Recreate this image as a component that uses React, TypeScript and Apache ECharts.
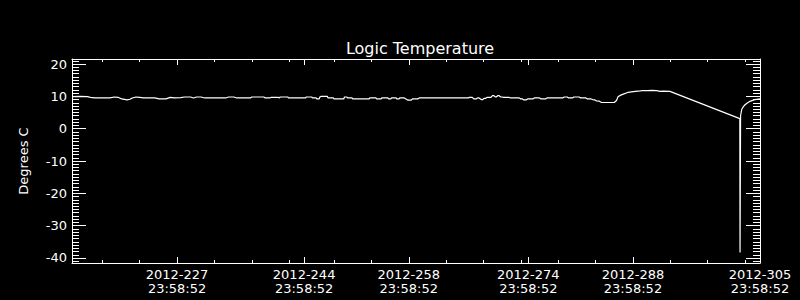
import React, { useEffect, useRef } from "react";
import * as echarts from "echarts";

// ---------- data ----------
const TITLE = "Logic Temperature";
const Y_NAME = "Degrees C";
const YEAR = "2012";
const TIME_OF_DAY = "23:58:52";

// x: day of year 2012 (fractional), y: degrees C
const X_MIN = 212.94;
const X_MAX = 305.0;
const Y_MIN = -41.55;
const Y_MAX = 21.55;

const majorDays = [227, 244, 258, 274, 288, 305];
const minorDays = [217, 222, 232, 237, 242, 248, 253, 263, 268, 273, 278, 283, 293, 298, 303];
const yMajorTicks = [-40, -30, -20, -10, 0, 10, 20];
const yMinorTicks = [
  -41, -40, -39, -38, -37, -36, -35, -34, -33, -32, -31, -30, -29, -28, -27, -26, -25, -24, -23, -22, -21,
  -20, -19, -18, -17, -16, -15, -14, -13, -12, -11, -10, -9, -8, -7, -6, -5, -4, -3, -2, -1, 0, 1, 2, 3, 4,
  5, 6, 7, 8, 9, 10, 11, 12, 13, 14, 15, 16, 17, 18, 19, 20, 21,
];

const days = [
  212.95, 214.0, 215.0, 215.4, 216.0, 218.0, 218.6, 219.1, 219.6, 220.3, 220.7, 221.0, 221.5, 222.0, 222.5,
  224.0, 224.6, 225.5, 226.1, 226.6, 227.5, 228.0, 228.8, 229.2, 229.6, 230.2, 230.7, 233.5, 233.9, 234.6,
  235.0, 236.8, 237.0, 238.6, 238.8, 239.4, 239.6, 240.5, 240.7, 240.8, 241.8, 241.9, 244.2, 244.3, 245.0,
  245.1, 245.6, 245.7, 246.0, 246.1, 246.3, 247.1, 247.2, 247.9, 248.0, 249.3, 249.4, 249.7, 249.8, 250.4,
  250.5, 252.7, 252.8, 253.6, 253.7, 254.3, 254.4, 255.2, 255.3, 255.6, 255.7, 256.3, 256.4, 256.7, 256.8,
  257.4, 257.9, 258.3, 258.5, 259.2, 259.4, 266.0, 266.1, 266.5, 266.7, 267.0, 267.2, 267.4, 267.7, 267.9,
  268.1, 268.3, 268.5, 269.0, 269.2, 269.4, 269.6, 269.7, 269.9, 270.1, 270.3, 270.5, 270.7, 271.4, 271.6,
  272.8, 273.0, 273.2, 273.4, 273.7, 273.9, 274.6, 274.8, 275.5, 275.7, 276.3, 276.5, 278.6, 278.8, 279.2,
  279.4, 279.9, 280.1, 280.8, 281.0, 281.7, 281.9, 282.4, 282.6, 282.9, 283.1, 283.5, 283.8, 285.5, 285.8,
  286.0, 286.3, 286.7, 287.3, 288.3, 289.0, 289.3, 290.0, 290.5, 291.2, 291.6, 292.0, 292.95, 302.3, 302.33,
  302.4, 302.48, 302.56, 302.8, 303.0, 303.3, 303.66, 304.3, 305.0,
];

const temps = [
  9.9, 10.0, 9.9, 9.7, 9.5, 9.5, 9.8, 9.7, 9.2, 8.9, 9.1, 9.5, 9.8, 9.7, 9.5,
  9.5, 9.2, 9.2, 9.7, 9.5, 9.6, 9.8, 9.8, 9.5, 9.8, 9.8, 9.5, 9.5, 9.8, 9.8,
  9.5, 9.5, 9.8, 9.8, 9.5, 9.5, 9.7, 9.7, 9.5, 9.8, 9.8, 9.5, 9.5, 9.8, 9.8,
  9.5, 9.5, 9.2, 9.2, 9.8, 10.0, 10.0, 9.5, 9.5, 9.2, 9.2, 9.8, 9.8, 9.5, 9.5,
  9.2, 9.2, 9.5, 9.5, 9.2, 9.2, 9.5, 9.5, 9.2, 9.2, 9.5, 9.5, 9.2, 9.2, 9.5,
  9.5, 8.8, 8.8, 9.2, 9.2, 9.5, 9.5, 9.7, 9.7, 9.2, 9.2, 9.5, 9.5, 9.0, 9.0,
  9.4, 9.4, 9.7, 9.7, 10.2, 10.2, 9.8, 9.8, 10.2, 10.2, 9.8, 9.8, 9.7, 9.7, 9.5,
  9.5, 9.2, 9.2, 8.9, 8.9, 9.2, 9.2, 9.5, 9.5, 9.2, 9.2, 9.5, 9.5, 9.8, 9.8,
  9.5, 9.5, 9.8, 9.8, 9.5, 9.5, 9.2, 9.2, 9.0, 8.9, 8.6, 8.5, 8.1, 8.1, 8.7,
  9.9, 10.3, 10.7, 11.2, 11.55, 11.7, 11.8, 11.75, 11.85, 11.75, 11.55, 11.6, 11.55, 3.1, -38.3,
  4.0, 5.0, 6.0, 6.9, 7.4, 7.95, 8.45, 9.0, 9.2,
];

// ---------- chart ----------
const FONT = "DejaVu Sans";
const WHITE = "#ffffff";

const fmtY = (v: number) => String(v);
const fmtX = (v: number) => `${YEAR}-${Math.round(v)}\n${TIME_OF_DAY}`;

export default function App() {
  const ref = useRef<HTMLDivElement>(null);

  useEffect(() => {
    if (!ref.current) return;
    document.body.style.margin = "0";
    document.body.style.background = "#000";
    const chart = echarts.init(ref.current, null, { renderer: "svg" });

    const data = days.map((d, i) => [d, temps[i]]);

    const xBase = (position: string, customTicks: number[], len: number, showLine: boolean, showLabel: boolean) => ({
      type: "value",
      gridIndex: 0,
      position,
      min: X_MIN,
      max: X_MAX,
      axisLine: { show: showLine, onZero: false, lineStyle: { color: WHITE, width: 1 } },
      axisTick: {
        show: true,
        inside: true,
        length: len,
        customValues: customTicks,
        lineStyle: { color: WHITE, width: 1 },
      },
      axisLabel: showLabel
        ? {
            show: true,
            customValues: majorDays,
            formatter: fmtX,
            color: WHITE,
            fontFamily: FONT,
            fontSize: 13,
            lineHeight: 14,
            margin: 4,
          }
        : { show: false },
      splitLine: { show: false },
      minorTick: { show: false },
    });

    const yBase = (position: string, customTicks: number[], len: number, showLine: boolean, showLabel: boolean) => ({
      type: "value",
      gridIndex: 0,
      position,
      min: Y_MIN,
      max: Y_MAX,
      axisLine: { show: showLine, onZero: false, lineStyle: { color: WHITE, width: 1 } },
      axisTick: {
        show: true,
        inside: true,
        length: len,
        customValues: customTicks,
        lineStyle: { color: WHITE, width: 1 },
      },
      axisLabel: showLabel
        ? {
            show: true,
            customValues: yMajorTicks,
            formatter: fmtY,
            color: WHITE,
            fontFamily: FONT,
            fontSize: 13,
            margin: 5,
          }
        : { show: false },
      splitLine: { show: false },
      minorTick: { show: false },
    });

    const yMain: any = yBase("left", yMajorTicks, 14, true, true);
    yMain.name = Y_NAME;
    yMain.nameLocation = "middle";
    yMain.nameGap = 42;
    yMain.nameRotate = 90;
    yMain.nameTextStyle = { color: WHITE, fontFamily: FONT, fontSize: 13 };

    const option: any = {
      animation: false,
      backgroundColor: "#000000",
      title: {
        text: TITLE,
        left: 415,
        top: 35,
        textAlign: "center",
        textStyle: { color: WHITE, fontFamily: FONT, fontSize: 16, fontWeight: "normal" },
      },
      grid: { left: 72, top: 59, width: 688, height: 204, containLabel: false },
      xAxis: [
        xBase("bottom", majorDays, 6, true, true),
        xBase("bottom", minorDays, 3, false, false),
        xBase("top", majorDays, 6, true, false),
        xBase("top", minorDays, 3, false, false),
      ],
      yAxis: [
        yMain,
        yBase("left", yMinorTicks, 7, false, false),
        yBase("right", yMajorTicks, 14, true, false),
        yBase("right", yMinorTicks, 7, false, false),
      ],
      series: [
        {
          type: "line",
          xAxisIndex: 0,
          yAxisIndex: 0,
          data,
          showSymbol: false,
          symbol: "none",
          lineStyle: { color: WHITE, width: 1.2 },
          clip: true,
        },
      ],
    };

    chart.setOption(option);
    return () => chart.dispose();
  }, []);

  return (
    <div
      ref={ref}
      style={{ position: "fixed", left: 0, top: 0, width: 800, height: 300, background: "#000" }}
    />
  );
}
